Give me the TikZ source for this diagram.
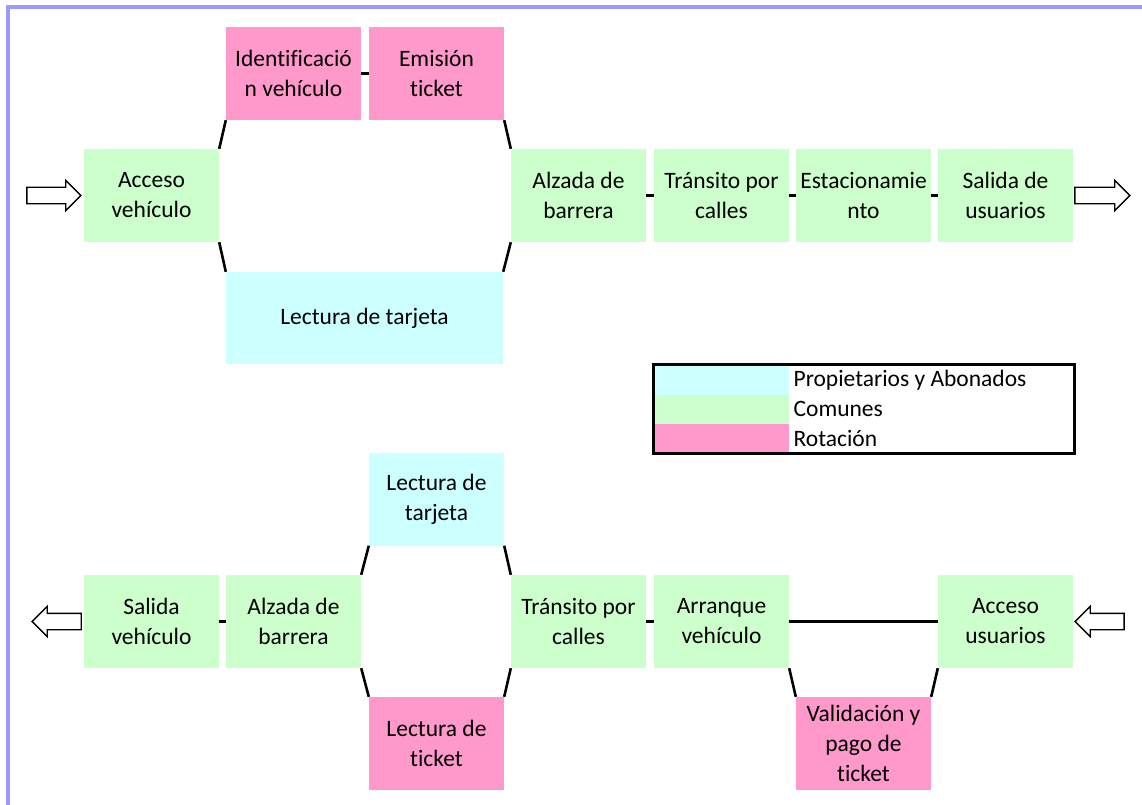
\documentclass[tikz,border=0pt]{standalone}
\usepackage{fontspec}
\setmainfont{Carlito}[Ligatures=CommonOff]
\usetikzlibrary{positioning,shapes.arrows}

\definecolor{comun}{HTML}{CCFFCC}
\definecolor{rotac}{HTML}{FF99CC}
\definecolor{abono}{HTML}{CCFFFF}
\definecolor{marco}{HTML}{9999FF}

\newcommand{\boxfont}{\fontsize{23.5}{30}\selectfont}

\begin{document}
\begin{tikzpicture}[
        x=1pt, y=-1pt,
        stage/.style={minimum width=135pt, minimum height=93pt, inner sep=0pt, align=center, font=\boxfont},
        comunbox/.style={stage, fill=comun},
        rotacbox/.style={stage, fill=rotac},
        abonobox/.style={stage, fill=abono},
        link/.style={line width=2.6pt},
        blockarrow/.style={single arrow, draw, fill=white, line width=1.3pt, inner xsep=0pt, inner ysep=7.5pt,
            single arrow head extend=7pt},
        swatch/.style={minimum width=134pt, minimum height=28.5pt, inner sep=0pt, anchor=north west},
        legtext/.style={font=\boxfont, inner sep=0pt}
    ]

    \useasboundingbox (0,0) rectangle (1142,805);

    % Frame
    \draw[marco, line width=4pt] (8,805) -- (8,7) -- (1142,7);

    % Entry flow (top)
    \node[comunbox] (accV) at (151.5,195.5) {Acceso\\veh\'iculo};
    \node[rotacbox] (idV) at (293.5,73.5) {Identificaci\'o\\n veh\'iculo};
    \node[rotacbox] (emT) at (436.5,73.5) {Emisi\'on\\ticket};
    \node[abonobox, minimum width=277pt, minimum height=92pt] (lecT) at (364.5,318) {Lectura de tarjeta};
    \node[comunbox] (alzB) at (578.5,195.5) {Alzada de\\barrera};
    \node[comunbox] (trC) at (721.5,195.5) {Tr\'ansito por\\calles};
    \node[comunbox] (est) at (863.5,195.5) {Estacionamie\\nto};
    \node[comunbox] (salU) at (1005.5,195.5) {Salida de\\usuarios};

    \draw[link] (accV.north east) -- (idV.south west);
    \draw[link] (idV.east) -- (emT.west);
    \draw[link] (emT.south east) -- (alzB.north west);
    \draw[link] (accV.south east) -- (lecT.north west);
    \draw[link] (lecT.north east) -- (alzB.south west);
    \draw[link] (alzB.east) -- (trC.west);
    \draw[link] (trC.east) -- (est.west);
    \draw[link] (est.east) -- (salU.west);

    \node[blockarrow, minimum height=54pt, anchor=tip] (entrada) at ([xshift=-2pt]accV.west) {};
    \node[blockarrow, minimum height=55pt, anchor=tail] (salida) at ([xshift=1pt]salU.east) {};

    % Legend
    \node[swatch, fill=abono] (legA) at (655,366) {};
    \node[swatch, fill=comun, below=0pt of legA] (legC) {};
    \node[swatch, fill=rotac, below=0pt of legC] (legR) {};
    \node[legtext, right=4pt of legA] {Propietarios y Abonados};
    \node[legtext, right=4pt of legC] {Comunes};
    \node[legtext, right=4pt of legR] {Rotaci\'on};
    \node[draw, line width=3pt, minimum width=421pt, minimum height=89pt, inner sep=0pt] (leyenda) at (863.5,408.5) {};

    % Exit flow (bottom)
    \node[comunbox] (salV) at (151.5,621.5) {Salida\\veh\'iculo};
    \node[comunbox] (alzB2) at (293.5,621.5) {Alzada de\\barrera};
    \node[abonobox] (lecT2) at (436.5,499) {Lectura de\\tarjeta};
    \node[rotacbox] (lecTk) at (436.5,743.5) {Lectura de\\ticket};
    \node[comunbox] (trC2) at (578.5,621.5) {Tr\'ansito por\\calles};
    \node[comunbox] (arrV) at (721.5,621.5) {Arranque\\veh\'iculo};
    \node[rotacbox] (valP) at (863.5,743.5) {Validaci\'on y\\pago de\\ticket};
    \node[comunbox] (accU) at (1005.5,621.5) {Acceso\\usuarios};

    \draw[link] (salV.east) -- (alzB2.west);
    \draw[link] (alzB2.north east) -- (lecT2.south west);
    \draw[link] (alzB2.south east) -- (lecTk.north west);
    \draw[link] (lecT2.south east) -- (trC2.north west);
    \draw[link] (lecTk.north east) -- (trC2.south west);
    \draw[link] (trC2.east) -- (arrV.west);
    \draw[link] (arrV.east) -- (accU.west);
    \draw[link] (arrV.south east) -- (valP.north west);
    \draw[link] (valP.north east) -- (accU.south west);

    \node[blockarrow, minimum height=49pt, shape border rotate=180, anchor=tail] (salidaV) at ([xshift=-2pt]salV.west) {};
    \node[blockarrow, minimum height=49pt, shape border rotate=180, anchor=tip] (accesoU) at ([xshift=1pt]accU.east) {};

\end{tikzpicture}
\end{document}
